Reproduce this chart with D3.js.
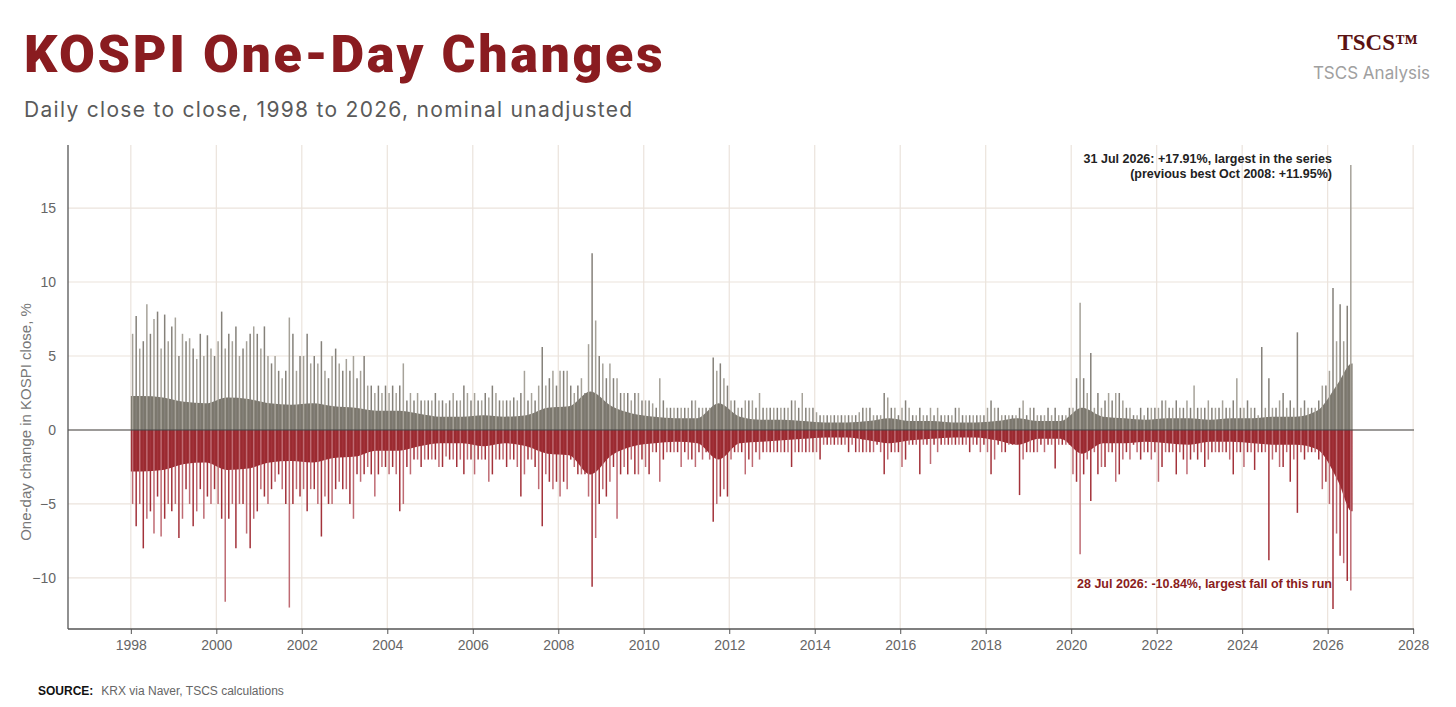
<!DOCTYPE html>
<html><head><meta charset="utf-8">
<script src="https://cdn.jsdelivr.net/npm/d3@7/dist/d3.min.js"></script>
<style>body{margin:0;background:#fff;}svg{display:block;}</style>
</head><body>
<svg id="c" width="1456" height="707"></svg>
<script>
const startYear = 1998;
// Monthly largest rise per month (%), Jan 1998 .. Jul 2026
const monthlyMaxUp = [
6.5,7.7,5.5,6,8.5,6.5,7.5,8,5.5,7.8,6,7,
7.6,5,6.5,6,6.2,5.5,4.8,6.5,5,6.4,5.5,5,
6,8,5.5,6.5,6,7,5,5.5,6,6.5,7,6.5,
5.5,7,5,4.5,5,4,3.5,4,7.6,6.5,4,5,
5,6.5,4.5,5,4.5,6,4,3.5,5,5.5,4.5,4,
4.8,4,5,3.5,4,5,3,3,2.5,3,2.5,3,
2.5,3,2.5,3,4.5,2,2.5,2,2.5,2,2,2,
2,2.5,2,2,1.8,2,2.5,2,2,3,2.5,2,
2.5,2,2,2.5,2.2,3,2.5,2,2,2,2,2.2,
2,2.5,4,2,2.5,2,3,5.6,3,3.5,4,3,
4,4,4,3,2.5,3,3.5,2.5,5.8,11.95,7.4,5,
4.5,3.5,4.5,3.5,3.5,2.5,2.5,2.5,2,2.5,2.5,2,
2,2,1.8,1.5,3.5,2,1.5,1.5,1.5,1.5,1.5,1.5,
1.5,2,2,1.5,1.5,1.5,1.5,4.9,4,4.5,3.5,3,
2,2,1.5,1.5,2,2,2,1.5,2.5,1.5,1.5,1.5,
1.5,1.5,1.5,1.5,1.5,2,2,1.5,2.5,1.5,1.5,1.5,
1.2,1,1,1,1,1,1,1,1,1,1,1,
1.2,1.5,1.5,1.5,1,1,1,2.5,2.2,1.5,1.5,1,
1.5,2,1.5,1,1,1.5,1,1,1.5,1,1.5,1,
1,1,1,1.5,1.5,1,1,1,1,1,1,1,
1.5,2,1.5,1.5,1,1,1,1,1,1.5,2,1,
1.5,1.5,1,1,1,1.5,1,1.5,1,1,1,1.5,
1.5,3.5,8.6,3.5,2.5,5.2,1.5,2.5,1.5,2,2.5,2,
2.5,2.5,2,1.5,1.5,1,1,1.5,1,1.5,1.5,1.5,
1.5,2,2,1.5,1.5,2,1.5,1.5,2,1.5,3,1.5,
1.5,1.5,2,1.5,1.5,1.5,2,1.5,1.5,2,3.5,1.5,
1.5,2,1.5,1.5,1,5.6,1.5,3.5,1.5,1.5,2,2.5,
1.5,2,1.5,6.6,1.5,2,1.5,1.5,1.5,2,3,3,
4,9.6,6,8.5,6,8.4,17.91
];
// Monthly largest fall per month (%)
const monthlyMaxDown = [
-5,-6.5,-5,-8,-6,-5.5,-7,-4.5,-7.2,-6,-5,-5.5,
-5,-7.3,-6,-4,-5,-6.5,-5.5,-4,-6,-4.5,-5,-4,
-5,-6,-11.6,-6,-5,-8,-5,-5,-7,-8,-6,-5.5,
-4,-4.5,-5,-4,-3.5,-3,-4,-5,-12,-5,-4,-4.5,
-4,-5.5,-4,-4,-5,-7.2,-4.5,-5,-5,-4,-3.5,-4,
-4,-5,-6,-3,-3.5,-3,-2.5,-3,-4.5,-3,-2.5,-2.5,
-3,-2.5,-3,-5.5,-5,-2.5,-3,-2,-2,-2.5,-2,-2,
-2,-2,-2.5,-2.5,-1.8,-2,-2,-2.5,-2,-3,-2,-2,
-3,-2,-2,-2,-3.5,-3,-2,-2,-2,-2.5,-2,-2,
-2.5,-4.5,-3,-2,-2,-2.5,-4,-6.5,-3,-3.5,-4,-3.5,
-4.5,-3.5,-4,-2,-2.5,-3,-3,-3,-4.5,-10.6,-7.3,-5,
-4,-4.5,-3.5,-2.5,-6,-3,-2.5,-3,-2,-3,-3,-2,
-2.5,-3,-1.5,-1.5,-3.5,-2,-1.5,-1.5,-1.5,-1.5,-2.5,-1.5,
-2,-2,-2.5,-1.5,-2,-1.5,-2,-6.2,-5,-4.5,-4,-4.5,
-2,-1.5,-1.5,-1.5,-3,-2,-2.5,-1.5,-2,-1.5,-1.5,-1.5,
-1.5,-1.5,-1.5,-1.5,-1.5,-2.5,-1.5,-1.5,-1.5,-1.5,-1.5,-1.5,
-1.5,-2,-1,-1,-1,-1,-1,-1,-1,-1.5,-1,-1.5,
-1.5,-1.5,-1.5,-1.5,-1.5,-1,-1.5,-3,-2,-1.5,-1.5,-1.5,
-2.5,-2,-1,-1,-1,-3,-1,-1,-2.3,-1,-1.5,-1,
-1,-1,-1,-1,-1,-1,-1,-1.5,-1,-1,-1.5,-1,
-1.5,-3,-2,-1,-1.5,-1.5,-1,-1,-1,-4.4,-2,-1.5,
-1.5,-1.5,-1.5,-1,-1.5,-1,-1,-2.6,-1,-1,-1,-1,
-3,-3.5,-8.4,-3,-2,-4.8,-1.5,-3,-2.5,-2.5,-1.5,-1.5,
-3.5,-3,-2,-1.5,-2,-1,-1.5,-2,-1.5,-1.5,-2,-1.5,
-3.5,-2.5,-1.5,-1.5,-1.5,-3,-1.5,-2,-3,-2,-1.5,-2,
-1.5,-2.5,-2,-1.5,-1.5,-1.5,-1.5,-1.5,-2,-3,-1.5,-1.5,
-2.5,-1.5,-1.5,-2.7,-1.5,-1.5,-1.5,-8.8,-2,-1.5,-2.5,-2.5,
-1.5,-3.5,-2,-5.6,-1.5,-2,-1.5,-1.5,-1.5,-2,-4,-3.5,
-5,-12.1,-7,-8.5,-9,-10.2,-10.84
];
// Typical (dense) daily move level per half-year
const halfYearTypUp = [2.3,2.2,1.9,1.8,2.2,2.1,1.8,1.7,1.8,1.6,1.5,1.3,1.3,1.1,0.9,0.9,1.0,0.9,1.0,1.5,1.6,2.6,1.6,1.1,0.9,0.8,0.8,1.8,0.9,0.7,0.7,0.6,0.5,0.5,0.6,0.8,0.6,0.6,0.5,0.5,0.6,0.8,0.6,0.6,1.5,0.9,0.8,0.7,0.8,0.8,0.7,0.8,0.8,0.9,0.9,1.3,3.2,4.5];
const halfYearTypDown = [-2.8,-2.7,-2.3,-2.2,-2.7,-2.6,-2.2,-2.1,-2.2,-1.9,-1.8,-1.4,-1.4,-1.1,-0.9,-0.9,-1.1,-0.9,-1.1,-1.6,-1.7,-3.0,-1.7,-1.1,-0.9,-0.8,-0.9,-2.0,-0.9,-0.8,-0.7,-0.6,-0.5,-0.5,-0.7,-0.9,-0.7,-0.6,-0.5,-0.5,-0.7,-1.0,-0.6,-0.6,-1.6,-0.9,-0.9,-0.8,-0.9,-1.0,-0.8,-0.8,-0.9,-1.0,-1.0,-1.3,-3.5,-5.5];
const yTicks = [-10,-5,0,5,10,15];
const xTicks = d3.range(1998, 2029, 2);

const svg = d3.select("#c");
const m = {l:68, r:1414, t:145, b:629};
const x = d3.scaleLinear().domain([1996.53, 2028.02]).range([m.l, m.r]);
const y = d3.scaleLinear().domain([-13.45, 19.26]).range([m.b, m.t]);
const endT = startYear + 7/12 + 28; // end of July 2026

// grid
svg.append("g").selectAll("line").data(yTicks).join("line")
  .attr("x1", m.l).attr("x2", m.r).attr("y1", d=>y(d)).attr("y2", d=>y(d))
  .attr("stroke", "#ebe3dc").attr("stroke-width", 1.2);
svg.append("g").selectAll("line").data(xTicks).join("line")
  .attr("y1", m.t).attr("y2", m.b).attr("x1", d=>x(d)).attr("x2", d=>x(d))
  .attr("stroke", "#ebe3dc").attr("stroke-width", 1.2);

// typical fill (half-year levels as smooth area)
const pts = arr => {
  const p = arr.map((d,i)=>({t: Math.min(startYear + i*0.5 + 0.25, endT-0.02), v:d}));
  return [{t:startYear, v:arr[0]}, ...p, {t:endT, v:arr[arr.length-1]}];
};
const area = d3.area().x(d=>x(d.t)).y0(y(0)).y1(d=>y(d.v)).curve(d3.curveMonotoneX);
svg.append("path").datum(pts(halfYearTypUp)).attr("d", area).attr("fill", "#7b776d");
svg.append("path").datum(pts(halfYearTypDown)).attr("d", area).attr("fill", "#9a2a30");

// monthly spikes
const mx = i => x(startYear + (i+0.5)/12);
svg.append("g").selectAll("line").data(monthlyMaxUp).join("line")
  .attr("x1",(d,i)=>mx(i)).attr("x2",(d,i)=>mx(i)).attr("y1",y(0)).attr("y2",d=>y(d))
  .attr("stroke",(d,i)=> i%2 ? "#85817a" : "#a6a299").attr("stroke-width",1.5);
svg.append("g").selectAll("line").data(monthlyMaxDown).join("line")
  .attr("x1",(d,i)=>mx(i)).attr("x2",(d,i)=>mx(i)).attr("y1",y(0)).attr("y2",d=>y(d))
  .attr("stroke",(d,i)=> i%2 ? "#a3323a" : "#bf6b73").attr("stroke-width",1.5);

// zero line
svg.append("line").attr("x1",m.l).attr("x2",m.r).attr("y1",y(0)).attr("y2",y(0)).attr("stroke","#444").attr("stroke-width",1.2);

// axes
const ya = svg.append("g").attr("transform",`translate(${m.l},0)`).call(d3.axisLeft(y).tickValues(yTicks).tickSize(0).tickPadding(12));
const xa = svg.append("g").attr("transform",`translate(0,${m.b})`).call(d3.axisBottom(x).tickValues(xTicks).tickFormat(d3.format("d")).tickSize(5).tickPadding(6));
[ya,xa].forEach(a=>{a.selectAll("text").attr("font-family","Liberation Sans, Arial, sans-serif").attr("font-size",14).attr("fill","#666");
 a.select(".domain").attr("stroke","#555").attr("stroke-width",1.3); a.selectAll(".tick line").attr("stroke","#555");});
ya.select(".domain").attr("d",`M0,${m.t}V${m.b}`);
xa.select(".domain").attr("d",`M${m.l},0H${m.r}`);

// y label
svg.append("text").attr("transform",`translate(31,${(m.t+m.b)/2+35}) rotate(-90)`).attr("text-anchor","middle")
  .attr("font-family","Liberation Sans, Arial, sans-serif").attr("font-size",15).attr("fill","#777").text("One-day change in KOSPI close, %");

// titles
svg.append("text").attr("x",24).attr("y",72).attr("font-family","Roboto, sans-serif").attr("font-weight",900).attr("font-size",52).attr("letter-spacing",2.6).attr("fill","#8a1c20").text("KOSPI One-Day Changes");
svg.append("text").attr("x",24).attr("y",117).attr("font-family","Inter, sans-serif").attr("font-size",21).attr("letter-spacing",1.3).attr("fill","#5a5a5a").text("Daily close to close, 1998 to 2026, nominal unadjusted");
svg.append("text").attr("x",1418).attr("y",50).attr("text-anchor","end").attr("font-family","Liberation Serif, serif").attr("font-weight","bold").attr("font-size",23).attr("fill","#5a1212").text("TSCS\u2122");
svg.append("text").attr("x",1430).attr("y",79).attr("text-anchor","end").attr("font-family","Inter, sans-serif").attr("font-size",17).attr("fill","#a0a0a0").text("TSCS Analysis");

// annotations
const ann = svg.append("g").attr("font-family","Liberation Sans, Arial, sans-serif").attr("font-weight","bold").attr("font-size",12.5).attr("text-anchor","end");
ann.append("text").attr("x",1332).attr("y",163).attr("fill","#222").text("31 Jul 2026: +17.91%, largest in the series");
ann.append("text").attr("x",1332).attr("y",178).attr("fill","#222").text("(previous best Oct 2008: +11.95%)");
ann.append("text").attr("x",1332).attr("y",588).attr("fill","#8a1c20").text("28 Jul 2026: -10.84%, largest fall of this run");

// source
const s = svg.append("text").attr("x",38).attr("y",695).attr("font-family","Liberation Sans, Arial, sans-serif").attr("font-size",12);
s.append("tspan").attr("font-weight","bold").attr("fill","#111").text("SOURCE:");
s.append("tspan").attr("dx",8).attr("fill","#666").text("KRX via Naver, TSCS calculations");
</script>
</body></html>
